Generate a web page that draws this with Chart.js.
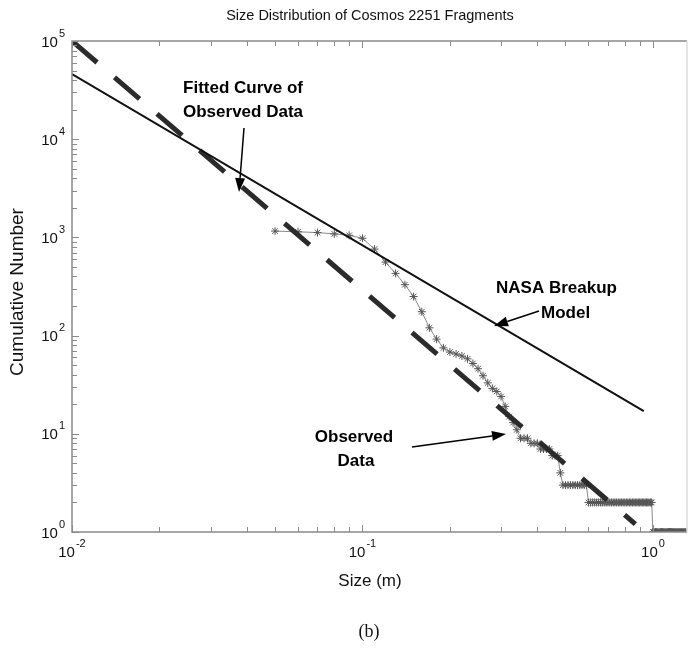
<!DOCTYPE html>
<html>
<head>
<meta charset="utf-8">
<script src="https://cdn.jsdelivr.net/npm/chart.js@4"></script>
<style>
  body { margin: 0; background: #fff; }
  #wrap { width: 688px; height: 652px; position: relative; }
</style>
</head>
<body>
<div id="wrap"><canvas id="chart"></canvas></div>
<script>
/* =========================
   DATA
========================= */

// NASA breakup model, straight power law
const nasaSize = [0.01, 0.93];
const nasaCount = [46000, 17];

// power-law fit to the catalogue
const fitSize = [0.01, 0.87];
const fitCount = [100000, 1.2];

// observed cumulative counts
const obsSize = [
  0.05, 0.06, 0.07, 0.08, 0.09, 0.10, 0.11, 0.12, 0.13, 0.14,
  0.15, 0.16, 0.17, 0.18, 0.19, 0.20, 0.21, 0.22, 0.23, 0.24,
  0.25, 0.26, 0.27, 0.28, 0.29, 0.30, 0.31, 0.32, 0.33, 0.34,
  0.35, 0.36, 0.37, 0.38, 0.39, 0.40, 0.41, 0.42, 0.43, 0.44,
  0.45, 0.46, 0.47, 0.48, 0.49, 0.50, 0.51, 0.52, 0.53, 0.54,
  0.55, 0.56, 0.57, 0.58, 0.59, 0.60, 0.61, 0.62, 0.63, 0.64,
  0.65, 0.66, 0.67, 0.68, 0.69, 0.70, 0.71, 0.72, 0.73, 0.74,
  0.75, 0.76, 0.77, 0.78, 0.79, 0.80, 0.81, 0.82, 0.83, 0.84,
  0.85, 0.86, 0.87, 0.88, 0.89, 0.90, 0.91, 0.92, 0.93, 0.94,
  0.95, 0.96, 0.97, 0.98, 0.99, 1.00, 1.01, 1.02, 1.03, 1.04,
  1.05, 1.06, 1.07, 1.08, 1.09, 1.10, 1.11, 1.12, 1.13, 1.14,
  1.15, 1.16, 1.17, 1.18, 1.19, 1.20, 1.21, 1.22, 1.23, 1.24,
  1.25, 1.26, 1.27, 1.28, 1.29, 1.30,
];
const obsCount = [
  1160, 1140, 1120, 1085, 1050, 980, 760, 560, 430, 330,
  250, 175, 120, 92, 75, 68, 65, 62, 58, 52,
  46, 39, 33, 29, 27, 24, 19, 15, 13, 11,
  9, 9, 9, 8, 8, 8, 7, 7, 7, 7,
  6, 6, 6, 4, 3, 3, 3, 3, 3, 3,
  3, 3, 3, 3, 3, 2, 2, 2, 2, 2,
  2, 2, 2, 2, 2, 2, 2, 2, 2, 2,
  2, 2, 2, 2, 2, 2, 2, 2, 2, 2,
  2, 2, 2, 2, 2, 2, 2, 2, 2, 2,
  2, 2, 2, 2, 2, 1, 1, 1, 1, 1,
  1, 1, 1, 1, 1, 1, 1, 1, 1, 1,
  1, 1, 1, 1, 1, 1, 1, 1, 1, 1,
  1, 1, 1, 1, 1, 1,
];

const xDecades = [-2, -1, 0];
const yDecades = [0, 1, 2, 3, 4, 5];

const pairs = (xs, ys) => xs.map((x, i) => ({ x: x, y: ys[i] }));

const SANS = "'Liberation Sans', Arial, sans-serif";

/* =========================
   AXES, LABELS, ARROWS
========================= */

function powerLabel(ctx, exp, x, y, align) {
  ctx.font = "15px " + SANS;
  const w10 = ctx.measureText("10").width;
  ctx.font = "11px " + SANS;
  const we = ctx.measureText(String(exp)).width;
  const total = w10 + 1 + we;
  let left = align === "right" ? x - total : x - total / 2;
  ctx.textAlign = "left";
  ctx.textBaseline = "alphabetic";
  ctx.font = "15px " + SANS;
  ctx.fillText("10", left, y);
  ctx.font = "11px " + SANS;
  ctx.fillText(String(exp), left + w10 + 1, y - 10);
}

function arrow(ctx, x1, y1, x2, y2) {
  const a = Math.atan2(y2 - y1, x2 - x1);
  const len = 14, half = 5;
  const bx = x2 - len * Math.cos(a), by = y2 - len * Math.sin(a);
  ctx.strokeStyle = "#000";
  ctx.lineWidth = 1.5;
  ctx.beginPath();
  ctx.moveTo(x1, y1);
  ctx.lineTo(bx, by);
  ctx.stroke();
  ctx.fillStyle = "#000";
  ctx.beginPath();
  ctx.moveTo(x2, y2);
  ctx.lineTo(bx + half * Math.sin(a), by - half * Math.cos(a));
  ctx.lineTo(bx - half * Math.sin(a), by + half * Math.cos(a));
  ctx.closePath();
  ctx.fill();
}

const decor = {
  id: "decor",
  afterDraw(chart) {
    const ctx = chart.ctx;
    const area = chart.chartArea;
    const xs = chart.scales.x;
    const ys = chart.scales.y;
    ctx.save();

    // frame: left/bottom/top in grey, right edge very light
    ctx.strokeStyle = "#8a8a8a";
    ctx.lineWidth = 1.5;
    ctx.beginPath();
    ctx.moveTo(area.right, area.top);
    ctx.lineTo(area.left, area.top);
    ctx.lineTo(area.left, area.bottom);
    ctx.lineTo(area.right, area.bottom);
    ctx.stroke();
    ctx.strokeStyle = "#dcdcdc";
    ctx.beginPath();
    ctx.moveTo(area.right, area.top);
    ctx.lineTo(area.right, area.bottom);
    ctx.stroke();

    // inward ticks
    ctx.strokeStyle = "#8a8a8a";
    ctx.lineWidth = 1;
    ctx.beginPath();
    xDecades.forEach((d) => {
      for (let m = 1; m <= 9; m++) {
        const v = m * Math.pow(10, d);
        if (v < xs.min || v > xs.max) continue;
        const px = Math.round(xs.getPixelForValue(v)) + 0.5;
        const len = m === 1 ? 7 : 5;
        ctx.moveTo(px, area.bottom);
        ctx.lineTo(px, area.bottom - len);
        ctx.moveTo(px, area.top);
        ctx.lineTo(px, area.top + len);
      }
    });
    yDecades.forEach((d) => {
      for (let m = 1; m <= 9; m++) {
        const v = m * Math.pow(10, d);
        if (v < ys.min || v > ys.max) continue;
        const py = Math.round(ys.getPixelForValue(v)) + 0.5;
        const len = m === 1 ? 7 : 5;
        ctx.moveTo(area.left, py);
        ctx.lineTo(area.left + len, py);
      }
    });
    ctx.stroke();

    // tick labels
    ctx.fillStyle = "#111";
    xDecades.forEach((d) => {
      powerLabel(ctx, d, xs.getPixelForValue(Math.pow(10, d)), 557, "center");
    });
    yDecades.forEach((d) => {
      powerLabel(ctx, d, 65, ys.getPixelForValue(Math.pow(10, d)) + 5.5, "right");
    });

    // titles
    ctx.textAlign = "center";
    ctx.textBaseline = "middle";
    ctx.font = "14.5px " + SANS;
    ctx.fillText("Size Distribution of Cosmos 2251 Fragments", 370, 16);
    ctx.font = "17px " + SANS;
    ctx.fillText("Size (m)", 370, 581);
    ctx.save();
    ctx.translate(18, 292);
    ctx.rotate(-Math.PI / 2);
    ctx.font = "19px " + SANS;
    ctx.fillText("Cumulative Number", 0, 0);
    ctx.restore();
    ctx.font = "18px 'Liberation Serif', 'Times New Roman', serif";
    ctx.fillText("(b)", 369, 632);

    // annotations
    ctx.fillStyle = "#000";
    ctx.font = "bold 17px " + SANS;
    ctx.fillText("Fitted Curve of", 243, 88);
    ctx.fillText("Observed Data", 243, 112);
    ctx.textAlign = "left";
    ctx.fillText("NASA Breakup", 496, 288);
    ctx.fillText("Model", 541, 313);
    ctx.textAlign = "center";
    ctx.fillText("Observed", 354, 437);
    ctx.fillText("Data", 356, 461);

    arrow(ctx, 244, 128, 239, 192);
    arrow(ctx, 539, 311, 494, 326);
    arrow(ctx, 412, 447, 506, 434);

    ctx.restore();
  },
};

/* =========================
   CHART
========================= */

new Chart(document.getElementById("chart"), {
  type: "scatter",
  data: {
    datasets: [
      {
        label: "NASA Breakup Model",
        data: pairs(nasaSize, nasaCount),
        showLine: true,
        borderColor: "#111",
        borderWidth: 2,
        pointRadius: 0,
      },
      {
        label: "Fitted Curve of Observed Data",
        data: pairs(fitSize, fitCount),
        showLine: true,
        borderColor: "#2b2b2b",
        borderWidth: 5,
        borderDash: [33, 23],
        pointRadius: 0,
      },
      {
        label: "Observed Data",
        data: pairs(obsSize, obsCount),
        showLine: true,
        borderColor: "#8a8a8a",
        borderWidth: 1,
        pointStyle: "star",
        pointRadius: 4,
        pointBorderColor: "#555",
        pointBackgroundColor: "#555",
        pointBorderWidth: 1,
      },
    ],
  },
  options: {
    responsive: true,
    maintainAspectRatio: false,
    animation: false,
    layout: {
      autoPadding: false,
      padding: { top: 41, right: 1, left: 0, bottom: 0 },
    },
    plugins: {
      legend: { display: false },
      tooltip: { enabled: false },
    },
    scales: {
      x: {
        type: "logarithmic",
        min: 0.01,
        max: 1.31,
        grid: { display: false },
        border: { display: false },
        ticks: { display: false },
        afterFit(s) {
          s.height = 120;
          s.paddingLeft = 0;
          s.paddingRight = 0;
        },
      },
      y: {
        type: "logarithmic",
        min: 1,
        max: 100000,
        grid: { display: false },
        border: { display: false },
        ticks: { display: false },
        afterFit(s) {
          s.width = 72;
          s.paddingTop = 0;
          s.paddingBottom = 0;
        },
      },
    },
  },
  plugins: [decor],
});
</script>
</body>
</html>
